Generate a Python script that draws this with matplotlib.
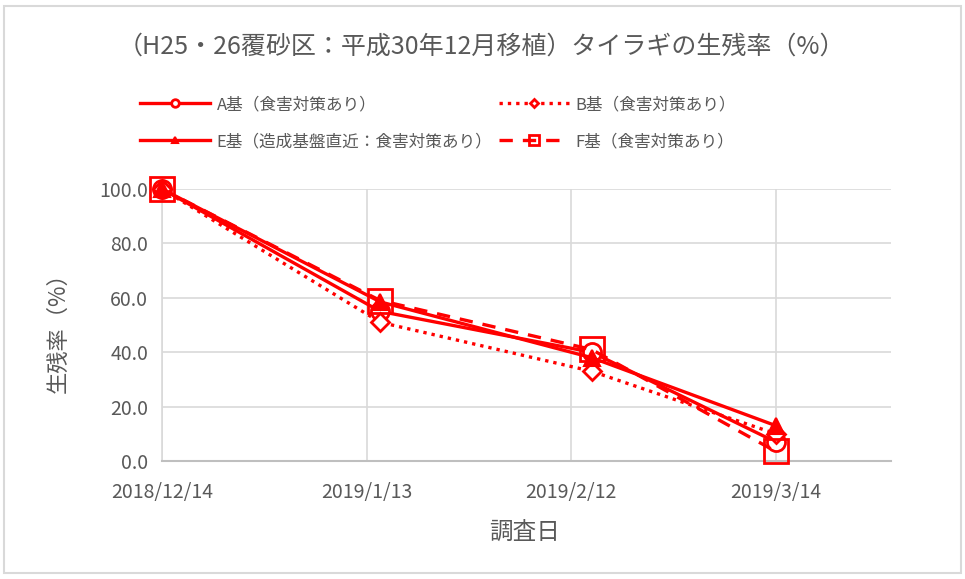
import matplotlib
matplotlib.use("Agg")
import matplotlib.pyplot as plt
from matplotlib.patches import Rectangle
from datetime import datetime, timedelta

plt.rcParams['font.family'] = ['Noto Sans CJK JP', 'DejaVu Sans']

# ---- data ----
dates = ["2018-12-14", "2019-01-15", "2019-02-15", "2019-03-14"]
series_names = ["A基（食害対策あり）", "B基（食害対策あり）",
                "E基（造成基盤直近：食害対策あり）", "F基（食害対策あり）"]
A_vals = [100.0, 55.0, 40.0, 7.0]
B_vals = [100.0, 51.0, 33.0, 10.0]
E_vals = [100.0, 58.5, 38.0, 13.0]
F_vals = [100.0, 59.0, 41.0, 3.5]
tick_dates = ["2018-12-14", "2019-01-13", "2019-02-12", "2019-03-14"]
tick_labels = ["2018/12/14", "2019/1/13", "2019/2/12", "2019/3/14"]
yticks = [0, 20, 40, 60, 80, 100]

title = "（H25・26覆砂区：平成30年12月移植）タイラギの生残率（%）"
xlabel = "調査日"
ylabel = "生残率（%）"

RED = "#ff0000"
GRAY = "#595959"

x = [datetime.strptime(d, "%Y-%m-%d") for d in dates]
xt = [datetime.strptime(d, "%Y-%m-%d") for d in tick_dates]

fig = plt.figure(figsize=(9.65, 5.79), dpi=100)
ax = fig.add_axes([162/965, 1-461/579, (891-162)/965, (461-189)/579])

styles = [
    dict(linestyle='-', marker='o', markersize=13, markerfacecolor='white', markeredgewidth=2),
    dict(linestyle=(0, (1, 1.5)), marker='D', markersize=9, markerfacecolor='white', markeredgewidth=2),
    dict(linestyle='-', marker='^', markersize=11, markerfacecolor=RED, markeredgewidth=1.5),
    dict(linestyle=(0, (4, 3)), marker='s', markersize=17, markerfacecolor='none', markeredgewidth=2),
]
lines = []
for name, vals, st in zip(series_names, [A_vals, B_vals, E_vals, F_vals], styles):
    ln, = ax.plot(x, vals, color=RED, linewidth=2.4, markeredgecolor=RED, label=name,
                  clip_on=False, zorder=3, **st)
    lines.append(ln)

ax.set_ylim(0, 100)
ax.set_xlim(xt[0], xt[0] + timedelta(days=106.9))
ax.set_yticks(yticks)
ax.set_yticklabels([f"{v:.1f}" for v in yticks])
ax.set_xticks(xt)
ax.set_xticklabels(tick_labels)
ax.grid(True, color="#d9d9d9", linewidth=1.2)
ax.set_axisbelow(True)
for s in ['top', 'right']:
    ax.spines[s].set_visible(False)
ax.spines['left'].set_color("#d9d9d9")
ax.spines['left'].set_linewidth(1.2)
ax.spines['bottom'].set_color("#bfbfbf")
ax.spines['bottom'].set_linewidth(1.5)
ax.tick_params(axis='both', length=0, labelcolor=GRAY, labelsize=14)
ax.tick_params(axis='x', pad=15)
ax.tick_params(axis='y', pad=10)

fig.text(481/965, 1-47/579, title, ha='center', va='center', fontsize=18, color=GRAY)
fig.text(525/965, 1-532/579, xlabel, ha='center', va='center', fontsize=17, color=GRAY)
fig.text(58/965, 1-327/579, ylabel, ha='center', va='center', fontsize=16, color=GRAY,
         rotation=90)

order = [0, 2, 1, 3]
leg = fig.legend([lines[i] for i in order], [series_names[i] for i in order],
                 loc='center', bbox_to_anchor=(438/965, 1-123/579), ncol=2,
                 frameon=False, fontsize=12, handlelength=4.2, markerscale=0.42,
                 columnspacing=0.4, labelspacing=1.2, handletextpad=0.4)
for t in leg.get_texts():
    t.set_color(GRAY)

fig.patches.append(Rectangle((4/965, 6/579), 957/965, 567/579, transform=fig.transFigure,
                             fill=False, edgecolor="#d9d9d9", linewidth=1.5))

fig.savefig("out.png", dpi=100)
